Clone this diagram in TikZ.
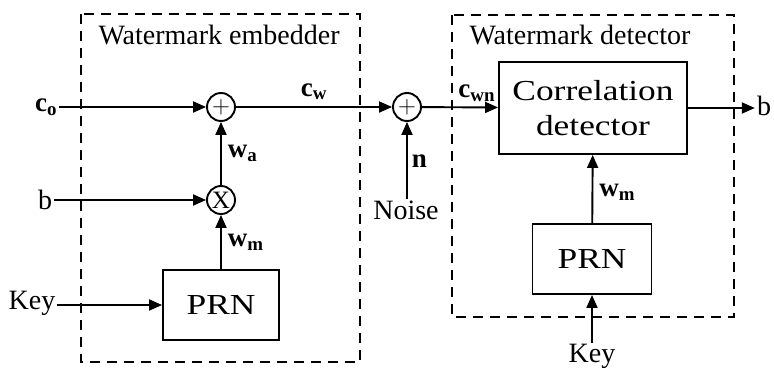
\documentclass[tikz,border=0pt]{standalone}
\usepackage{fontspec}
\setmainfont{Liberation Serif}
\newfontfamily\boxfont[FakeStretch=1.22]{Liberation Serif}
\usetikzlibrary{arrows.meta}

\begin{document}
\begin{tikzpicture}[x=1pt, y=-1pt,
    every node/.style={font=\fontsize{28}{32}\selectfont},
    sumnode/.style={draw, circle, line width=1.9pt, minimum size=28pt, inner sep=0pt, font=\fontsize{25}{27}\selectfont},
    blockbox/.style={draw, rectangle, line width=1.9pt, align=center, font=\boxfont\fontsize{29}{35}\selectfont},
    groupbox/.style={draw, line width=1.9pt, dash pattern=on 10pt off 7pt},
    arr/.style={-{Triangle[length=13pt,width=11pt]}, line width=1.9pt},
    sig/.style={font=\fontsize{27}{30}\selectfont\bfseries, inner sep=1pt}]
    \useasboundingbox (0,0) rectangle (774,369);
    % Caixes discontinues
    \draw[groupbox] (81,14) rectangle (360,362);
    \draw[groupbox] (452,15) rectangle (734,317);
    \node[anchor=base west] (embT) at (95,45) {Watermark embedder};
    \node[anchor=base west] (detT) at (466,45) {Watermark detector};
    % Insercio
    \node[sumnode] (plusE) at (221,107) {$+$};
    \node[sumnode] (mult) at (221,200) {X};
    \node[blockbox, minimum width=116pt, minimum height=70pt] (prnE) at (221,305) {PRN};
    \node[sig, inner sep=2pt] (co) at (46,107) {c\textsubscript{o}};
    \node[inner sep=2pt] (bin) at (45,200) {b};
    \node[inner sep=1pt] (keyE) at (32,303) {Key};
    % Deteccio
    \node[sumnode] (plusN) at (407,107) {$+$};
    \node[inner sep=1pt] (noise) at (406,210) {Noise};
    \node[blockbox, minimum width=188pt, minimum height=92pt] (corr) at (593,108) {Correlation\\detector};
    \node[blockbox, minimum width=119pt, minimum height=70pt] (prnD) at (592,259) {PRN};
    \node[inner sep=1pt] (keyD) at (592,356) {Key};
    \node[inner sep=2pt] (bout) at (764,106) {b};
    % Connexions
    \draw[arr] (co.east |- plusE) -- (plusE);
    \draw[arr] (bin.east |- mult) -- (mult);
    \draw[arr] (keyE.east |- prnE.west) -- (prnE.west);
    \draw[arr] (prnE) -- node[sig, right=5pt] {w\textsubscript{m}} (mult);
    \draw[arr] (mult) -- node[sig, right=5pt] {w\textsubscript{a}} (plusE);
    \draw[arr] (plusE) -- node[sig, above=5pt] {c\textsubscript{w}} (plusN);
    \draw[arr] (noise.north -| plusN) -- node[sig, right=3pt] {n} (plusN);
    \draw[arr] (plusN) -- node[sig, above=4pt, pos=0.72] {c\textsubscript{wn}} (corr);
    \draw[arr] (corr.east) -- (bout.west |- corr.east);
    \draw[arr] (prnD) -- node[sig, right=5pt, pos=0.45] {w\textsubscript{m}} (corr);
    \draw[arr] (keyD.north -| prnD) -- (prnD.south);
\end{tikzpicture}
\end{document}
